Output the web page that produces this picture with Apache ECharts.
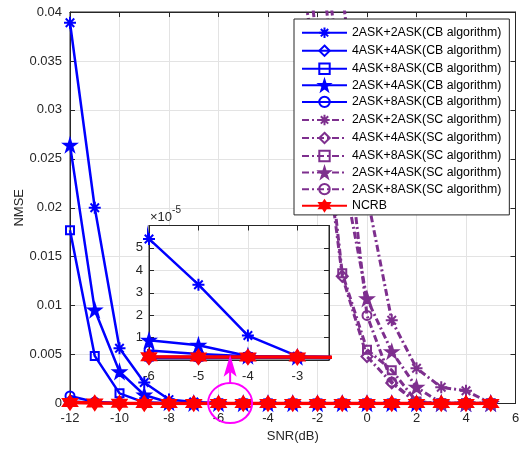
<!DOCTYPE html>
<html><head><meta charset="utf-8">
<script src="https://cdn.jsdelivr.net/npm/echarts@6/dist/echarts.min.js"></script>
<style>html,body{margin:0;padding:0;background:#fff}#c{width:523px;height:449px}</style>
</head><body><div id="c"></div>
<script>
// ---------- data ----------
const snr = [-12,-11,-10,-9,-8,-7,-6,-5,-4,-3,-2,-1,0,1,2,3,4,5];
const cb22 = [0.0389,0.0200,0.00564,0.00215,0.00040,0.00015,5.4e-5,3.36e-5,1.09e-5,1.7e-6,1.3e-6,1.2e-6,1.1e-6,1.0e-6,1.0e-6,0.9e-6,0.9e-6,0.9e-6];
const cb44 = [0.00020,8e-5,3e-5,1.2e-5,5e-6,2e-6,0.9e-6,0.9e-6,1.0e-6,1.0e-6,0.9e-6,0.9e-6,0.9e-6,0.8e-6,0.8e-6,0.8e-6,0.8e-6,0.8e-6];
const cb48 = [0.0177,0.00486,0.00104,0.00012,2.2e-5,7e-6,1.6e-6,1.4e-6,1.3e-6,1.2e-6,1.1e-6,1.1e-6,1.0e-6,1.0e-6,1.0e-6,0.9e-6,0.9e-6,0.9e-6];
const cb24 = [0.0264,0.00956,0.00325,0.00087,0.00010,2.2e-5,8.8e-6,6.6e-6,1.8e-6,1.3e-6,1.2e-6,1.1e-6,1.1e-6,1.0e-6,1.0e-6,0.9e-6,0.9e-6,0.9e-6];
const cb28 = [0.00077,0.00015,6e-5,2.5e-5,1.2e-5,7e-6,4.2e-6,2.7e-6,1.7e-6,1.3e-6,1.1e-6,1.1e-6,1.0e-6,1.0e-6,0.9e-6,0.9e-6,0.9e-6,0.9e-6];
const ncrb = [1.0e-4,5e-5,2.2e-5,1.0e-5,5e-6,2.5e-6,1.4e-6,1.37e-6,1.33e-6,1.3e-6,1.27e-6,1.24e-6,1.2e-6,1.18e-6,1.15e-6,1.13e-6,1.1e-6,1.08e-6];

const scSnr = [-3,-2,-1,0,1,2,3,4,5];
const sc22 = [0.120,0.075,0.0420,0.0213,0.0085,0.0036,0.00166,0.0013,0.00003];
const sc44 = [0.050,0.033,0.0130,0.0048,0.0021,0.0001,0.00003,0.00002,0.00001];
const sc48 = [0.060,0.036,0.0133,0.0055,0.0034,0.0002,0.00003,0.00002,0.00001];
const sc24 = [0.100,0.0498,0.0240,0.0107,0.0053,0.00166,0.00005,0.00002,0.00001];
const sc28 = [0.080,0.052,0.0315,0.0090,0.0022,0.0001,0.00003,0.00002,0.00001];

const names = ['2ASK+2ASK(CB algorithm)','4ASK+4ASK(CB algorithm)','4ASK+8ASK(CB algorithm)','2ASK+4ASK(CB algorithm)','2ASK+8ASK(CB algorithm)',
  '2ASK+2ASK(SC algorithm)','4ASK+4ASK(SC algorithm)','4ASK+8ASK(SC algorithm)','2ASK+4ASK(SC algorithm)','2ASK+8ASK(SC algorithm)','NCRB'];

// axis ranges / ticks
const mainX = {min:-12, max:6, interval:2};
const mainY = {min:0, max:0.04, interval:0.005};
const insetX = {min:-6, max:-2.36, interval:1};
const insetY = {min:0, max:6e-5, interval:1e-5};
const insetYLabels = [1,2,3,4,5];
const insetScaleText = ['×10','-5'];

// annotation (main-axis coordinates)
const ellipseCenter = [-5.53, 0.00005];
const arrowFrom = [-5.53, 0.0020];
const arrowTo = [-5.53, 0.00497];

// ---------- styling ----------
const BLUE = '#0000ff', PURPLE = '#7e2f8e', RED = '#ff0000', AX = '#262626', GRIDC = '#e3e3e3';
const FONT = 'Liberation Sans';
function starPath(n, rIn){
  let d='';
  for (let k=0;k<2*n;k++){
    const r = k%2===0?10:10*rIn, a = -Math.PI/2 + k*Math.PI/n;
    d += (k?'L':'M') + (r*Math.cos(a)).toFixed(3) + ',' + (r*Math.sin(a)).toFixed(3);
  }
  return 'path://' + d + 'Z';
}
const SYM = {
  ast: 'path://M0,-10L0,10M-10,0L10,0M-7.07,-7.07L7.07,7.07M-7.07,7.07L7.07,-7.07',
  dia: 'diamond', sq: 'rect', pent: starPath(5,0.382), circ: 'circle', hex: starPath(6,0.577)
};
const mk = [
  {sym:SYM.ast, size:12, filled:false},
  {sym:SYM.dia, size:11, filled:false},
  {sym:SYM.sq, size:8, filled:false},
  {sym:SYM.pent, size:12, filled:true},
  {sym:SYM.circ, size:9, filled:false}
];
function series(name, xs, ys, color, m, dashed, lw, axisIdx, z){
  return {
    name, type:'line', xAxisIndex:axisIdx, yAxisIndex:axisIdx, z,
    data: xs.map((x,i)=>[x, ys[i]]),
    symbol:m.sym, symbolSize:m.size, showAllSymbol:true, clip:true,
    lineStyle:{color, width:lw, type: dashed ? [7,3,2,3] : 'solid'},
    itemStyle:{color: m.filled ? color : 'none', borderColor:color, borderWidth:2},
    emphasis:{disabled:true}, animation:false
  };
}
const cbData = [cb22, cb44, cb48, cb24, cb28];
const scData = [sc22, sc44, sc48, sc24, sc28];
const hexM = {sym:SYM.hex, size:14, filled:true};
const allSeries = [];
cbData.forEach((d,i)=>allSeries.push(series(names[i], snr, d, BLUE, mk[i], false, 2.5, 0, 2)));
scData.forEach((d,i)=>allSeries.push(series(names[5+i], scSnr, d, PURPLE, mk[i], true, 3, 0, 2)));
allSeries.push(series(names[10], snr, ncrb, RED, hexM, false, 3.5, 0, 3));
// inset
cbData.forEach((d,i)=>allSeries.push(series(names[i], snr, d, BLUE, mk[i], false, 2.5, 2, 12)));
allSeries.push(series(names[10], snr, ncrb, RED, hexM, false, 3.5, 2, 13));

const lab = {color:AX, fontSize:13, fontFamily:FONT};
function ax(extra){
  return Object.assign({
    type:'value',
    axisLine:{show:true, onZero:false, lineStyle:{color:AX, width:1}},
    axisTick:{show:true, inside:true, length:5, lineStyle:{color:AX}},
    axisLabel:Object.assign({}, lab),
    splitLine:{show:true, lineStyle:{color:GRIDC, width:1}}
  }, extra);
}
const noLab = {show:false};
const isInt = v => Math.abs(v - Math.round(v)) < 1e-6;

const option = {
  animation:false,
  backgroundColor:'#fff',
  grid:[
    {left:70, top:12, width:445.5, height:391.5, show:true, borderColor:AX, borderWidth:1, backgroundColor:'#fff', outerBoundsMode:'none', containLabel:false},
    {left:149, top:225.5, width:180, height:134.5, show:true, borderColor:AX, borderWidth:1, backgroundColor:'#fff', z:10, outerBoundsMode:'none', containLabel:false}
  ],
  xAxis:[
    ax({gridIndex:0, position:'bottom', ...mainX, name:'SNR(dB)', nameLocation:'middle', nameGap:26, nameMoveOverlap:false,
        nameTextStyle:{color:AX, fontSize:13, fontFamily:FONT}, axisLabel:Object.assign({}, lab, {margin:8})}),
    ax({gridIndex:0, position:'top', ...mainX, axisLabel:noLab, splitLine:{show:false}}),
    ax({gridIndex:1, position:'bottom', ...insetX, z:11,
        axisLabel:Object.assign({}, lab, {margin:10, formatter:v=>isInt(v)?String(Math.round(v)):''})}),
    ax({gridIndex:1, position:'top', ...insetX, z:11, axisLabel:noLab, splitLine:{show:false}})
  ],
  yAxis:[
    ax({gridIndex:0, position:'left', ...mainY, name:'NMSE', nameLocation:'middle', nameGap:44, nameMoveOverlap:false,
        nameTextStyle:{color:AX, fontSize:13, fontFamily:FONT}}),
    ax({gridIndex:0, position:'right', ...mainY, axisLabel:noLab, splitLine:{show:false}}),
    ax({gridIndex:1, position:'left', ...insetY, z:11,
        name:'{a|'+insetScaleText[0]+'}{b|'+insetScaleText[1]+'}', nameLocation:'end', nameGap:2,
        nameTextStyle:{align:'left', color:AX, fontFamily:FONT, padding:[0,0,0,1],
          rich:{a:{fontSize:13, color:AX, fontFamily:FONT, verticalAlign:'bottom'}, b:{fontSize:10, color:AX, fontFamily:FONT, verticalAlign:'top', padding:[0,0,8,0]}}},
        axisLabel:Object.assign({}, lab, {margin:6, formatter:v=>{const k=Math.round(v*1e5); return insetYLabels.includes(k)&&isInt(v*1e5)?String(k):'';}})}),
    ax({gridIndex:1, position:'right', ...insetY, z:11, axisLabel:noLab, splitLine:{show:false}})
  ],
  legend:{
    data:names, orient:'vertical', left:294, top:19,
    itemWidth:45, itemHeight:13, itemGap:2.65, padding:[6,8,3,7],
    backgroundColor:'#fff', borderColor:AX, borderWidth:1, borderRadius:0,
    textStyle:{fontFamily:FONT, fontSize:12.3, color:'#000'}, z:5, selectedMode:false
  },
  series: allSeries
};
const chart = echarts.init(document.getElementById('c'), null, {renderer:'canvas'});
chart.setOption(option);

// annotation via data -> pixel conversion
const c = chart.convertToPixel({gridIndex:0}, ellipseCenter);
const a0 = chart.convertToPixel({gridIndex:0}, arrowFrom);
const a1 = chart.convertToPixel({gridIndex:0}, arrowTo);
const headLen = 22, headW = 6.5, notch = 5;
chart.setOption({graphic:[
  {type:'ellipse', shape:{cx:c[0], cy:c[1], rx:22, ry:20}, style:{fill:'none', stroke:'#ff00ff', lineWidth:2}, z:30, silent:true},
  {type:'line', shape:{x1:a0[0], y1:a0[1], x2:a1[0], y2:a1[1]+headLen-notch}, style:{stroke:'#ff00ff', lineWidth:2}, z:30, silent:true},
  {type:'polygon', shape:{points:[[a1[0], a1[1]], [a1[0]-headW, a1[1]+headLen], [a1[0], a1[1]+headLen-notch], [a1[0]+headW, a1[1]+headLen]]},
    style:{fill:'#ff00ff'}, z:30, silent:true}
]});
</script></body></html>
